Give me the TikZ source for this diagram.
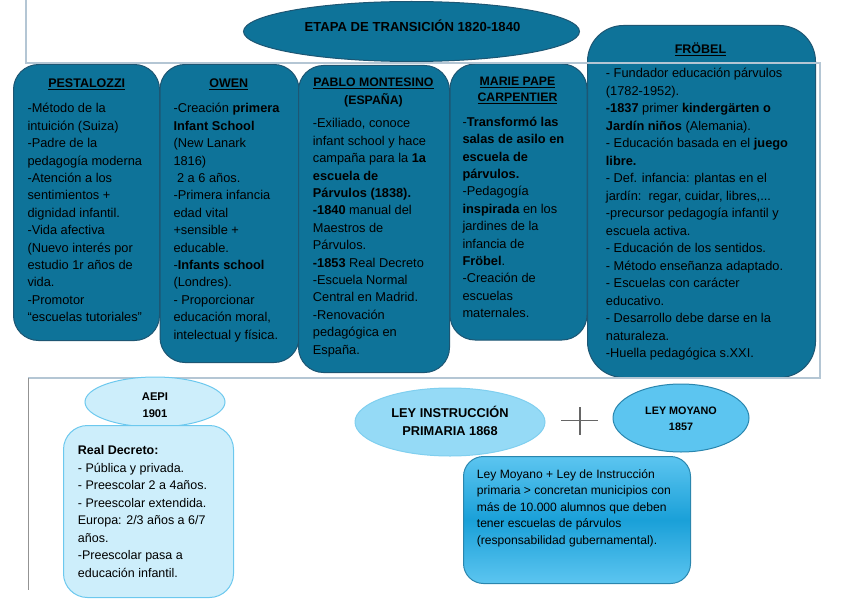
\documentclass[tikz,border=0pt]{standalone}
\usepackage{fontspec}
\setmainfont{Liberation Sans}
\usetikzlibrary{shapes.geometric}
\definecolor{darkfill}{HTML}{0E7399}
\definecolor{darkline}{HTML}{1D5673}
\definecolor{palefill}{HTML}{CDEEFB}
\definecolor{paleline}{HTML}{6CC8EE}
\definecolor{midfill}{HTML}{95DAF6}
\definecolor{midline}{HTML}{80CFEF}
\definecolor{brightfill}{HTML}{5CC5F0}
\definecolor{brightline}{HTML}{2A86AE}
\definecolor{deepfill}{HTML}{1AA0D8}
\definecolor{framecol}{HTML}{B4C6D4}
\tikzset{
  darkbox/.style={draw=darkline, fill=darkfill, line width=1pt, inner sep=0pt, anchor=north west},
  darkoval/.style={ellipse, draw=darkline, fill=darkfill, line width=1pt, inner sep=0pt},
  paleoval/.style={ellipse, draw=paleline, fill=palefill, line width=1pt, inner sep=0pt},
  palebox/.style={draw=paleline, fill=palefill, line width=1pt, inner sep=0pt, anchor=north west, rounded corners=24pt},
  bodytext/.style={anchor=north west, inner sep=0pt, align=left, text=black, font=\fontsize{12.8}{17.4}\selectfont},
  headtext/.style={anchor=north, inner sep=0pt, align=center, text=black, font=\fontsize{12.5}{17}\selectfont\bfseries},
}
\begin{document}
\begin{tikzpicture}[x=1pt,y=-1pt]
\useasboundingbox (0,0) rectangle (848,599);
% top ellipse
\node[darkoval, minimum width=336pt, minimum height=60pt] (title) at (411.5,31.5) {};
% main boxes
\node[darkbox, rounded corners=25pt, minimum width=146pt, minimum height=276pt] (pbox) at (13,64) {};
\node[darkbox, rounded corners=25pt, minimum width=139pt, minimum height=298pt] (obox) at (159.5,64) {};
\node[darkbox, rounded corners=25pt, minimum width=151pt, minimum height=307pt] (mbox) at (298,65) {};
\node[darkbox, rounded corners=25pt, minimum width=137pt, minimum height=276pt] (cbox) at (449.5,63.5) {};
\node[darkbox, rounded corners=36pt, minimum width=228pt, minimum height=352pt] (fbox) at (587,25) {};
% frame lines
\draw[framecol, line width=1.3pt] (26,0) -- (26,63) -- (820,63) -- (820,378) -- (28,378);
\draw[gray!85, line width=1pt] (28,378) -- (28,590);
% lower part
\node[paleoval, minimum width=140pt, minimum height=50pt] (aepi) at (155,402) {};
\node[palebox, minimum width=170pt, minimum height=172pt] (rdbox) at (63,425) {};
\node[ellipse, draw=midline, fill=midfill, line width=1pt, inner sep=0pt, minimum width=190pt, minimum height=68pt] (ley68) at (450,422) {};
\node[ellipse, draw=brightline, fill=brightfill, line width=1pt, inner sep=0pt, minimum width=136pt, minimum height=68pt] (moyano) at (681,418) {};
\node[draw=brightline, top color=brightfill, bottom color=brightfill, middle color=deepfill, line width=1pt, rounded corners=20pt, inner sep=0pt, anchor=north west, minimum width=227pt, minimum height=127pt] (lawbox) at (463,456) {};
\coordinate (plusc) at (580,420.5);
\draw[gray!80!black, line width=1.2pt] ([xshift=-19pt]plusc) -- ([xshift=18pt]plusc);
\draw[gray!80!black, line width=1.2pt] ([yshift=-14pt]plusc) -- ([yshift=13.5pt]plusc);
% texts
\node[anchor=base, inner sep=0pt, font=\fontsize{13.1}{15}\selectfont\bfseries] (titletext) at (412.5,31.6) {ETAPA DE TRANSICIÓN 1820-1840};
\node[headtext] (phead) at (86.7,75.3) {\strut\underline{PESTALOZZI}};
\node[headtext] (ohead) at (228.8,75.3) {\strut\underline{OWEN}};
\node[headtext, font=\fontsize{12.3}{18.3}\selectfont\bfseries] (mhead) at (373.5,73.4) {\strut\underline{PABLO MONTESINO}\\(ESPAÑA)};
\node[headtext, font=\fontsize{12.3}{16}\selectfont\bfseries] (chead) at (517.5,74) {\strut\underline{MARIE PAPE}\\\underline{CARPENTIER}};
\node[headtext] (fhead) at (700.5,41.6) {\strut\underline{FRÖBEL}};
\node[bodytext] (ptext) at (27.3,100.6) {\strut-Método de la\\
intuición (Suiza)\\
-Padre de la\\
pedagogía moderna\\
-Atención a los\\
sentimientos +\\
dignidad infantil.\\
-Vida afectiva\\
(Nuevo interés por\\
estudio 1r años de\\
vida.\\
-Promotor\\
“escuelas tutoriales”};
\node[bodytext] (otext) at (173.3,100.6) {\strut-Creación \textbf{primera}\\
\textbf{Infant School}\\
(New Lanark\\
1816)\\
\ 2 a 6 años.\\
-Primera infancia\\
edad vital\\
+sensible +\\
educable.\\
-\textbf{Infants school}\\
(Londres).\\
- Proporcionar\\
educación moral,\\
intelectual y física.};
\node[bodytext] (mtext) at (312.7,115.6) {\strut-Exiliado, conoce\\
infant school y hace\\
campaña para la \textbf{1a}\\
\textbf{escuela de}\\
\textbf{Párvulos (1838).}\\
\textbf{-1840} manual del\\
Maestros de\\
Párvulos.\\
\textbf{-1853} Real Decreto\\
-Escuela Normal\\
Central en Madrid.\\
-Renovación\\
pedagógica en\\
España.};
\node[bodytext] (ctext) at (462.3,114) {\strut-\textbf{Transformó las}\\
\textbf{salas de asilo en}\\
\textbf{escuela de}\\
\textbf{párvulos.}\\
-Pedagogía\\
\textbf{inspirada} en los\\
jardines de la\\
infancia de\\
\textbf{Fröbel}.\\
-Creación de\\
escuelas\\
maternales.};
\node[bodytext, font=\fontsize{12.8}{17.5}\selectfont] (ftext) at (605.7,65.5) {\strut- Fundador educación párvulos\\
(1782-1952).\\
\textbf{-1837} primer \textbf{kindergärten o}\\
\textbf{Jardín niños} (Alemania).\\
- Educación basada en el \textbf{juego}\\
\textbf{libre.}\\
- Def. infancia: plantas en el\\
jardín:\ \ regar, cuidar, libres,...\\
-precursor pedagogía infantil y\\
escuela activa.\\
- Educación de los sentidos.\\
- Método enseñanza adaptado.\\
- Escuelas con carácter\\
educativo.\\
- Desarrollo debe darse en la\\
naturaleza.\\
-Huella pedagógica s.XXI.};
\node[headtext, font=\fontsize{11.2}{17}\selectfont\bfseries] (aepitext) at (155,388.6) {\strut AEPI\\1901};
\node[bodytext, font=\fontsize{12.5}{17.5}\selectfont] (rdtext) at (77.7,442.3) {\strut\textbf{Real Decreto:}\\
- Pública y privada.\\
- Preescolar 2 a 4años.\\
- Preescolar extendida.\\
Europa: 2/3 años a 6/7\\
años.\\
-Preescolar pasa a\\
educación infantil.};
\node[headtext, font=\fontsize{12.8}{18.7}\selectfont\bfseries] (ley68text) at (450,403.8) {\strut LEY INSTRUCCIÓN\\PRIMARIA 1868};
\node[headtext, font=\fontsize{10.8}{15.7}\selectfont\bfseries] (moyanotext) at (681,403.3) {\strut LEY MOYANO\\1857};
\node[bodytext, font=\fontsize{12.1}{16.4}\selectfont] (lawtext) at (476.7,466.8) {\strut Ley Moyano + Ley de Instrucción\\
primaria > concretan municipios con\\
más de 10.000 alumnos que deben\\
tener escuelas de párvulos\\
(responsabilidad gubernamental).};
\end{tikzpicture}
\end{document}
